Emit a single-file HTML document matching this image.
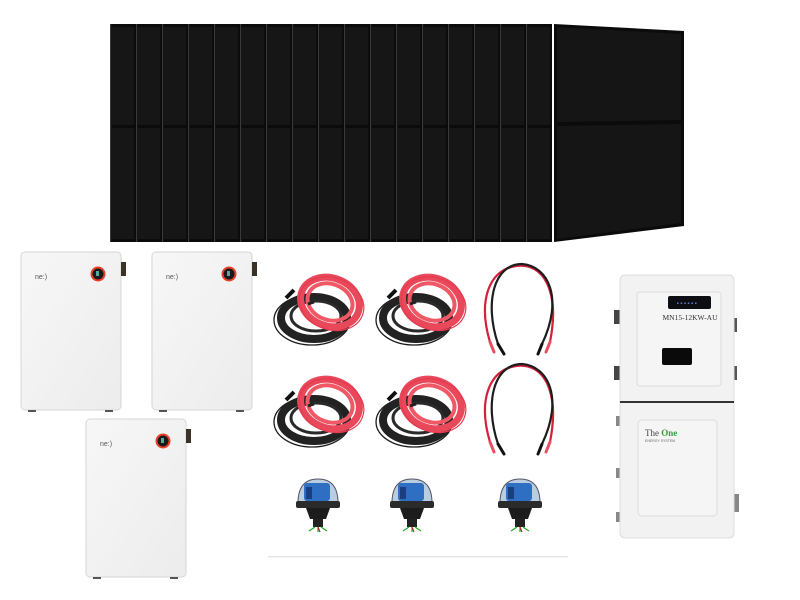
<!DOCTYPE html>
<html><head><meta charset="utf-8"><style>
html,body{margin:0;padding:0;background:#fff;width:800px;height:600px;overflow:hidden}
svg{display:block}
</style></head><body>
<svg width="800" height="600" viewBox="0 0 800 600" xmlns="http://www.w3.org/2000/svg">
<defs>
<linearGradient id="bat" x1="0" y1="0" x2="1" y2="1">
<stop offset="0" stop-color="#f7f7f7"/><stop offset="1" stop-color="#ececec"/></linearGradient>
<g id="strip">
<rect x="0" y="0" width="26" height="218" fill="#0b0b0b"/>
<rect x="2" y="3" width="22" height="98" fill="#161616"/>
<rect x="2" y="104" width="22" height="111" fill="#161616"/>
<rect x="0" y="0" width="1.2" height="218" fill="#3a3a3a"/>
</g>
<g id="battery">
<rect x="0" y="0" width="100" height="158" rx="4" fill="url(#bat)" stroke="#d6d6d6" stroke-width="1"/>
<text x="14" y="27" font-family="Liberation Sans, sans-serif" font-size="7" fill="#555">ne:)</text>
<circle cx="77" cy="22" r="7.5" fill="#e8412a"/>
<circle cx="77" cy="22" r="5.5" fill="#1a1a1a"/>
<rect x="75" y="19" width="3" height="5" fill="#5a9"/>
<rect x="100" y="10" width="5" height="14" fill="#3a3226"/>
<rect x="7" y="158" width="8" height="2" fill="#555"/>
<rect x="84" y="158" width="8" height="2" fill="#555"/>
</g>
<g id="coil" fill="none">
<ellipse cx="0" cy="2" rx="38" ry="25" stroke="#1c1c1c" stroke-width="1.3"/>
<ellipse cx="2" cy="0" rx="33" ry="21" stroke="#222" stroke-width="8"/>
<ellipse cx="4" cy="-2" rx="25" ry="15" stroke="#2a2a2a" stroke-width="3"/>
<path d="M-26 -20 L-18 -28" stroke="#111" stroke-width="4"/>
<g transform="translate(18,-16) rotate(20)">
<ellipse cx="0" cy="0" rx="30" ry="24" stroke="#e9475a" stroke-width="7"/>
<ellipse cx="0" cy="0" rx="23" ry="18" stroke="#f05866" stroke-width="4"/>
<ellipse cx="2" cy="1" rx="33" ry="26" stroke="#e33b50" stroke-width="1.2"/>
</g>
<path d="M-4 -14 l6 -2" stroke="#222" stroke-width="3"/>
</g>
<g id="pair" fill="none" stroke-width="2.2" stroke-linecap="round">
<path d="M12 80 C0 40 10 8 38 4 C66 0 82 30 72 80" stroke="#d5203a"/>
<path d="M20 82 C6 40 16 2 44 2 C70 4 86 36 64 82" stroke="#1d1d1d"/>
<path d="M12 80 L16 90" stroke="#e94e60" stroke-width="3"/>
<path d="M72 80 L68 90" stroke="#e94e60" stroke-width="3"/>
<path d="M20 82 L26 92" stroke="#111" stroke-width="3"/>
<path d="M64 82 L60 92" stroke="#111" stroke-width="3"/>
</g>
<g id="conn">
<path d="M-20 10 Q-20 -14 0 -14 Q20 -14 20 10 Z" fill="#b9cde0" stroke="#556" stroke-width="1"/>
<rect x="-14" y="-10" width="26" height="18" rx="3" fill="#2e6fc4"/>
<rect x="-12" y="-6" width="6" height="12" fill="#1a3e80"/>
<rect x="-22" y="8" width="44" height="7" rx="2" fill="#2b2b2b"/>
<path d="M-12 15 L12 15 L8 26 L-8 26 Z" fill="#1c1c1c"/>
<rect x="-5" y="26" width="10" height="8" fill="#222"/>
<path d="M-3 34 l-6 4 M0 34 l0 5 M3 34 l6 4" stroke="#2a2" stroke-width="1.2"/>
<path d="M0 34 l2 5" stroke="#c22" stroke-width="1.2"/>
</g>
</defs>

<g transform="translate(110,24)">
<use href="#strip" x="0"/><use href="#strip" x="26"/><use href="#strip" x="52"/><use href="#strip" x="78"/>
<use href="#strip" x="104"/><use href="#strip" x="130"/><use href="#strip" x="156"/><use href="#strip" x="182"/>
<use href="#strip" x="208"/><use href="#strip" x="234"/><use href="#strip" x="260"/><use href="#strip" x="286"/>
<use href="#strip" x="312"/><use href="#strip" x="338"/><use href="#strip" x="364"/><use href="#strip" x="390"/>
<use href="#strip" x="416"/>
</g>
<polygon points="554,24 684,31 684,226 554,242" fill="#0b0b0b"/>
<polygon points="557,27 681,34 681,120 557,122" fill="#151515"/>
<polygon points="557,126 681,124 681,223 557,239" fill="#151515"/>

<use href="#battery" x="21" y="252"/>
<use href="#battery" x="152" y="252"/>
<use href="#battery" x="86" y="419"/>

<use href="#coil" x="312" y="318"/>
<use href="#coil" x="414" y="318"/>
<use href="#coil" x="312" y="420"/>
<use href="#coil" x="414" y="420"/>
<use href="#pair" x="478" y="262"/>
<use href="#pair" x="478" y="362"/>

<use href="#conn" x="318" y="493"/>
<use href="#conn" x="412" y="493"/>
<use href="#conn" x="520" y="493"/>
<rect x="268" y="556" width="300" height="1.5" fill="#e6e6e6"/>

<rect x="614" y="310" width="7" height="14" fill="#444"/>
<rect x="614" y="366" width="7" height="14" fill="#444"/>
<rect x="732" y="318" width="5" height="14" fill="#555"/>
<rect x="732" y="366" width="5" height="14" fill="#555"/>
<rect x="616" y="416" width="5" height="10" fill="#888"/>
<rect x="616" y="468" width="5" height="10" fill="#888"/>
<rect x="616" y="512" width="5" height="10" fill="#888"/>
<rect x="733" y="494" width="6" height="18" fill="#888"/>
<rect x="620" y="275" width="114" height="263" rx="5" fill="#f2f2f2" stroke="#ddd"/>
<rect x="637" y="292" width="84" height="94" rx="3" fill="#f5f5f5" stroke="#dcdcdc"/>
<rect x="668" y="296" width="43" height="13" rx="2" fill="#0d0d14"/>
<text x="676" y="305" font-family="Liberation Mono, monospace" font-size="6" fill="#6a7bd0">▪▪▪▪▪▪</text>
<text x="690" y="320" text-anchor="middle" font-family="Liberation Serif, serif" font-size="7.5" fill="#333">MN15-12KW-AU</text>
<rect x="662" y="348" width="30" height="17" rx="2" fill="#0a0a0a"/>
<rect x="620" y="401" width="114" height="2" fill="#333"/>
<rect x="638" y="420" width="79" height="96" rx="4" fill="#f5f5f5" stroke="#dcdcdc"/>
<text x="645" y="436" font-family="Liberation Serif, serif" font-size="9" fill="#444">The<tspan fill="#3a9a3a" font-weight="bold"> One</tspan></text>
<text x="645" y="442" font-family="Liberation Sans, sans-serif" font-size="3.5" fill="#666">ENERGY SYSTEM</text>
</svg>
</body></html>
